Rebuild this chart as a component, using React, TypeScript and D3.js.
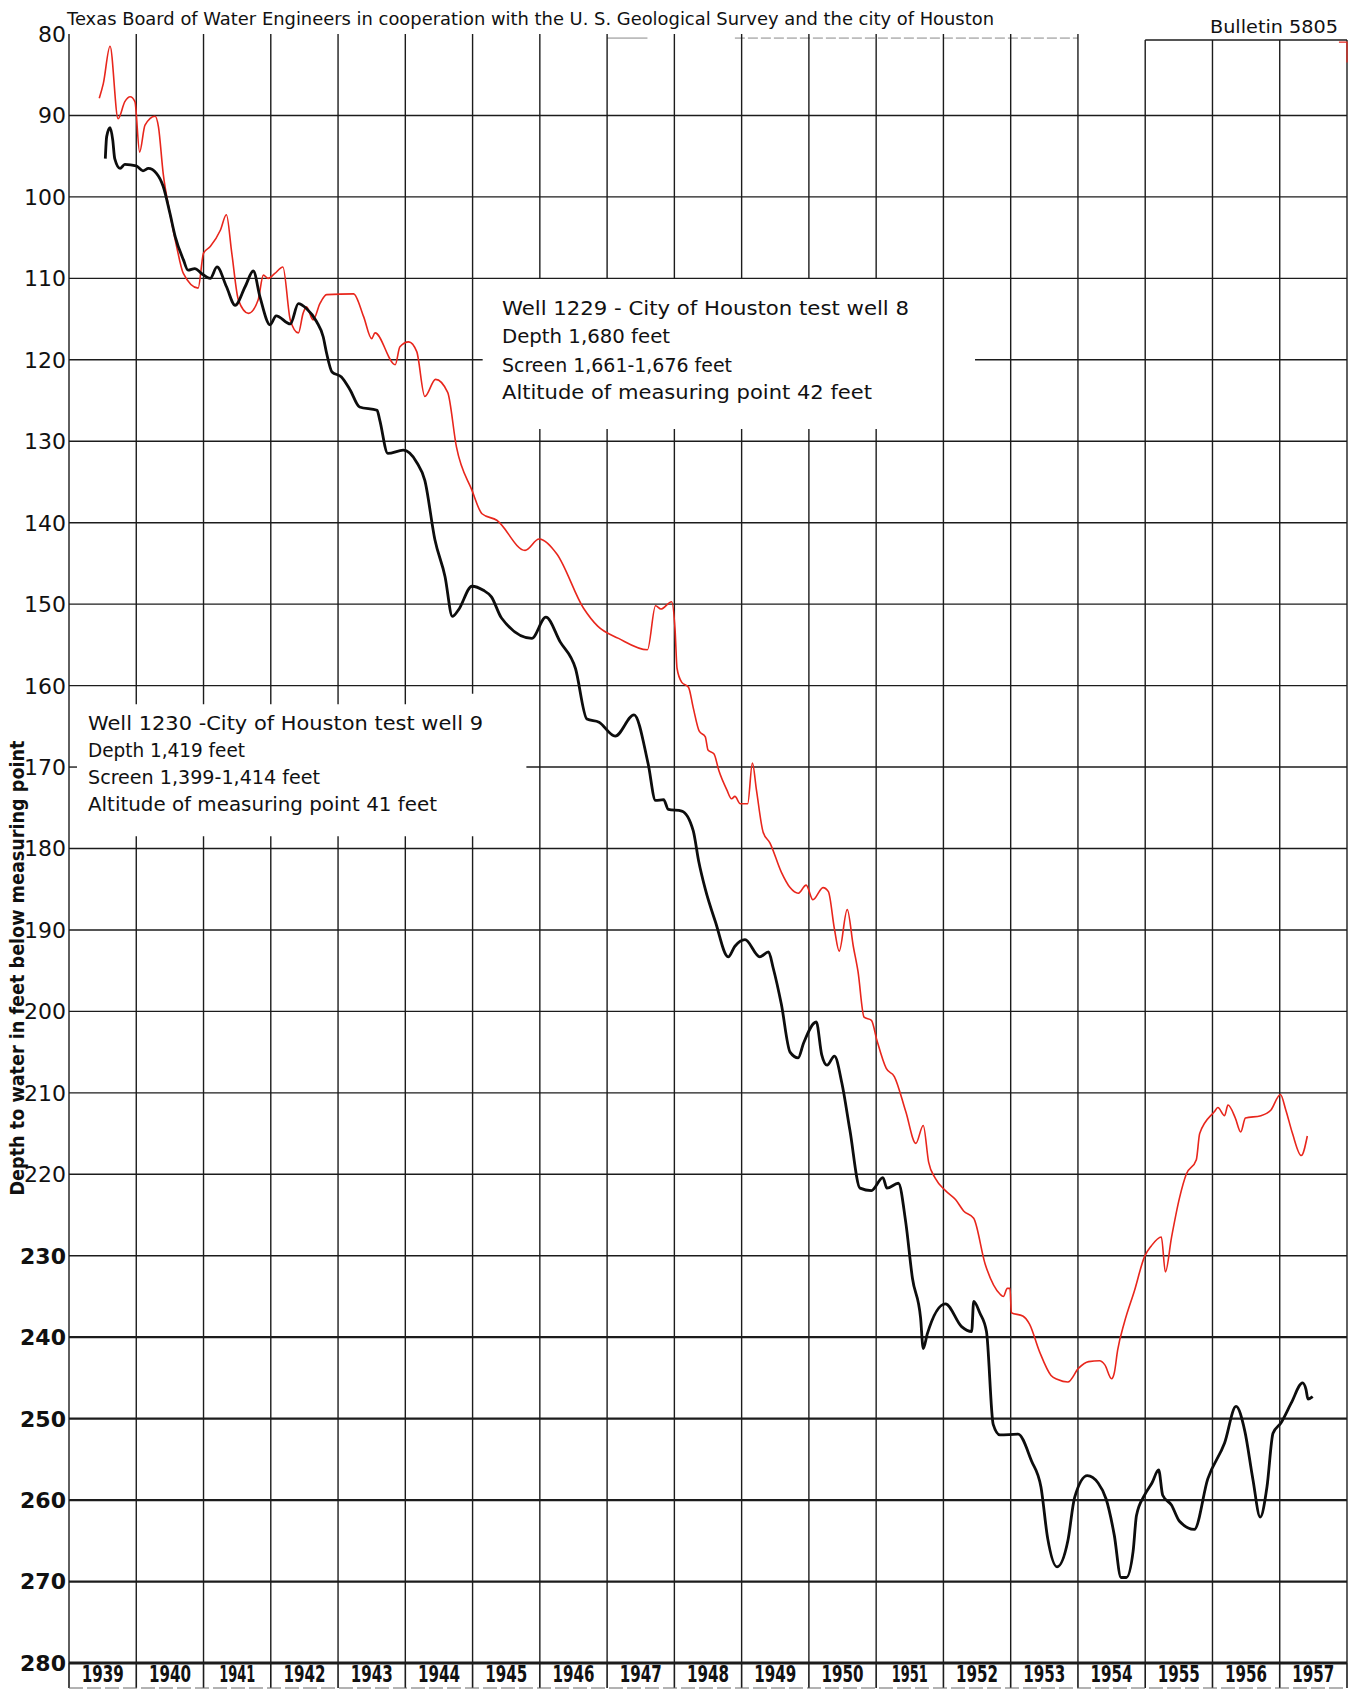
import React from "react";
import * as d3 from "d3";

// ---------- DATA ----------
const depthTicks = [80, 90, 100, 110, 120, 130, 140, 150, 160, 170, 180, 190, 200, 210, 220, 230, 240, 250, 260, 270, 280];
const boldTicks = [230, 240, 250, 260, 270, 280];
const yearLabels = ["1939", "1940", "1941", "1942", "1943", "1944", "1945", "1946", "1947", "1948", "1949", "1950", "1951", "1952", "1953", "1954", "1955", "1956", "1957"];
const yearLines = [1939, 1940, 1941, 1942, 1943, 1944, 1945, 1946, 1947, 1948, 1949, 1950, 1951, 1952, 1953, 1954, 1955, 1956, 1957, 1958];

// Well 1229 (red) [decimal year, depth below measuring point in feet]
const well1229: [number, number][] = [
  [1939.45, 87.9], [1939.51, 86.1], [1939.61, 81.5], [1939.73, 90.4], [1939.83, 88.3], [1939.91, 87.7],
  [1939.98, 88.3], [1940.05, 94.5], [1940.13, 91.2], [1940.28, 90.1], [1940.33, 91.4], [1940.40, 97.1],
  [1940.50, 102.0], [1940.60, 106.1], [1940.70, 109.4], [1940.92, 111.2], [1941.00, 106.9], [1941.10, 106.1],
  [1941.25, 104.1], [1941.34, 102.2], [1941.42, 106.9], [1941.52, 112.7], [1941.67, 114.3], [1941.81, 112.7],
  [1941.89, 109.6], [1941.96, 110.0], [1942.06, 109.4], [1942.18, 108.6], [1942.29, 115.1], [1942.41, 116.7],
  [1942.48, 114.3], [1942.53, 113.5], [1942.63, 115.1], [1942.73, 113.1], [1942.83, 112.0], [1943.23, 111.9],
  [1943.38, 114.7], [1943.50, 117.4], [1943.55, 116.7], [1943.85, 120.6], [1943.92, 118.4], [1944.05, 117.8],
  [1944.17, 119.0], [1944.29, 124.5], [1944.45, 122.4], [1944.63, 124.0], [1944.76, 130.7], [1944.99, 136.0],
  [1945.14, 138.9], [1945.36, 139.7], [1945.78, 143.4], [1945.99, 142.0], [1946.25, 143.8], [1946.65, 150.5],
  [1946.86, 152.7], [1947.17, 154.2], [1947.60, 155.6], [1947.72, 150.2], [1947.80, 150.6], [1947.96, 149.7],
  [1948.01, 153.1], [1948.04, 157.9], [1948.11, 159.6], [1948.21, 160.2], [1948.28, 162.7], [1948.37, 165.6],
  [1948.46, 166.3], [1948.50, 167.9], [1948.59, 168.4], [1948.66, 170.4], [1948.78, 172.8], [1948.85, 173.9],
  [1948.90, 173.6], [1948.98, 174.5], [1949.09, 174.5], [1949.16, 169.5], [1949.22, 172.8], [1949.32, 178.0],
  [1949.42, 179.3], [1949.59, 182.9], [1949.72, 184.8], [1949.84, 185.5], [1949.96, 184.5], [1950.06, 186.3],
  [1950.21, 184.8], [1950.29, 185.3], [1950.38, 189.9], [1950.45, 192.6], [1950.57, 187.5], [1950.66, 192.0],
  [1950.73, 195.1], [1950.82, 200.7], [1950.93, 201.1], [1951.01, 203.5], [1951.15, 207.0], [1951.27, 208.0],
  [1951.44, 212.3], [1951.59, 216.2], [1951.70, 214.0], [1951.78, 218.5], [1951.88, 220.5], [1952.03, 222.0],
  [1952.18, 223.1], [1952.30, 224.5], [1952.45, 225.4], [1952.62, 231.0], [1952.84, 234.7], [1952.89, 235.0],
  [1952.95, 234.0], [1952.99, 234.0], [1953.01, 237.0], [1953.18, 237.4], [1953.28, 238.4], [1953.43, 241.8],
  [1953.60, 244.7], [1953.70, 245.2], [1953.85, 245.5], [1954.01, 243.8], [1954.16, 243.0], [1954.32, 242.9],
  [1954.40, 243.4], [1954.50, 245.1], [1954.54, 244.4], [1954.59, 241.6], [1954.69, 238.2], [1954.84, 234.3],
  [1954.99, 230.1], [1955.09, 228.8], [1955.24, 227.7], [1955.30, 232.0], [1955.39, 227.8], [1955.51, 222.9],
  [1955.61, 220.0], [1955.76, 218.2], [1955.81, 215.0], [1956.03, 212.3], [1956.08, 211.8], [1956.18, 212.8],
  [1956.23, 211.5], [1956.34, 213.1], [1956.42, 214.8], [1956.49, 213.1], [1956.72, 212.8], [1956.87, 212.1],
  [1957.01, 210.2], [1957.09, 212.1], [1957.19, 215.0], [1957.32, 217.7], [1957.41, 215.3],
];

// Well 1230 (black)
const well1230: [number, number][] = [
  [1939.54, 95.3], [1939.56, 92.6], [1939.61, 91.5], [1939.65, 93.0], [1939.68, 95.3], [1939.76, 96.5],
  [1939.83, 96.0], [1940.00, 96.2], [1940.10, 96.8], [1940.18, 96.5], [1940.30, 97.1], [1940.40, 98.7],
  [1940.50, 102.0], [1940.58, 104.9], [1940.70, 107.7], [1940.77, 109.0], [1940.87, 108.8], [1940.97, 109.4],
  [1941.10, 110.0], [1941.20, 108.6], [1941.34, 111.0], [1941.47, 113.3], [1941.62, 111.0], [1941.74, 109.1],
  [1941.84, 112.3], [1941.99, 115.7], [1942.08, 114.6], [1942.29, 115.6], [1942.41, 113.1], [1942.53, 113.7],
  [1942.68, 115.3], [1942.78, 117.2], [1942.83, 119.2], [1942.91, 121.5], [1943.05, 122.1], [1943.18, 123.7],
  [1943.32, 125.8], [1943.58, 126.2], [1943.62, 127.4], [1943.74, 131.5], [1943.97, 131.1], [1944.17, 132.6],
  [1944.29, 134.8], [1944.44, 142.1], [1944.59, 146.6], [1944.70, 151.5], [1944.79, 150.7], [1944.99, 147.8],
  [1945.16, 148.3], [1945.28, 149.1], [1945.43, 151.7], [1945.88, 154.2], [1946.09, 151.6], [1946.30, 154.6],
  [1946.53, 157.9], [1946.70, 164.1], [1946.88, 164.5], [1947.12, 166.2], [1947.40, 163.6], [1947.61, 169.6],
  [1947.72, 174.1], [1947.84, 174.0], [1947.91, 175.2], [1948.11, 175.4], [1948.28, 177.8], [1948.36, 181.5],
  [1948.46, 185.0], [1948.61, 189.0], [1948.80, 193.3], [1948.90, 192.0], [1949.05, 191.2], [1949.27, 193.3],
  [1949.40, 192.7], [1949.47, 194.7], [1949.59, 199.1], [1949.72, 205.0], [1949.84, 205.7], [1949.92, 203.9],
  [1950.11, 201.3], [1950.19, 205.3], [1950.27, 206.6], [1950.38, 205.5], [1950.49, 208.8], [1950.61, 214.6],
  [1950.76, 221.7], [1950.93, 222.0], [1951.10, 220.4], [1951.16, 221.7], [1951.33, 221.1], [1951.44, 225.9],
  [1951.54, 232.8], [1951.66, 237.6], [1951.70, 241.4], [1951.76, 239.6], [1952.03, 235.9], [1952.27, 238.7],
  [1952.42, 239.3], [1952.45, 235.6], [1952.54, 237.0], [1952.64, 239.3], [1952.74, 250.7], [1952.84, 252.0],
  [1953.11, 251.9], [1953.31, 255.2], [1953.45, 258.4], [1953.55, 264.7], [1953.69, 268.2], [1953.85, 265.0],
  [1953.95, 259.7], [1954.14, 257.0], [1954.30, 257.9], [1954.42, 259.9], [1954.54, 264.3], [1954.64, 269.5],
  [1954.72, 269.5], [1954.82, 266.3], [1954.87, 261.9], [1954.99, 259.4], [1955.10, 257.9], [1955.20, 256.3],
  [1955.26, 259.4], [1955.39, 260.6], [1955.51, 262.6], [1955.73, 263.6], [1955.93, 257.4], [1956.18, 253.0],
  [1956.35, 248.5], [1956.48, 251.5], [1956.60, 257.4], [1956.71, 262.1], [1956.81, 258.4], [1956.90, 251.8],
  [1957.02, 250.5], [1957.17, 248.1], [1957.34, 245.6], [1957.39, 246.4], [1957.42, 247.6], [1957.49, 247.3],
];

const titleText = "Texas Board of Water Engineers in cooperation with the U. S. Geological Survey and the city of Houston";
const bulletinText = "Bulletin  5805";
const axisTitle = "Depth to water in feet below measuring point";
const note1229 = ["Well 1229  - City of Houston test well 8", "Depth 1,680 feet", "Screen 1,661-1,676 feet", "Altitude of measuring point 42 feet"];
const note1230 = ["Well 1230 -City of Houston  test well 9", "Depth 1,419 feet", "Screen 1,399-1,414 feet", "Altitude of measuring point 41 feet"];

// gaps in the grid (label boxes) : year -> depth ranges hidden
const verticalGaps: Record<number, [number, number][]> = {
  1940: [[162.3, 178.5]], 1941: [[162.3, 178.5]], 1942: [[162.3, 178.5]], 1943: [[162.3, 178.5]],
  1944: [[162.3, 178.5]], 1945: [[161, 178.5]],
  1946: [[110, 128.5]], 1947: [[110, 128.5]], 1948: [[110, 128.5]], 1949: [[110, 128.5]],
  1950: [[110, 128.5]], 1951: [[110, 128.5]],
};
const horizontalGaps: Record<number, [number, number][]> = {
  120: [[1945.15, 1952.47]],
  170: [[1939, 1945.8]],
};

// ---------- SCALES ----------
const W = 1360, H = 1690;
const x = d3.scaleLinear().domain([1939, 1958]).range([69, 1347]);
const y = d3.scaleLinear().domain([80, 280]).range([34, 1663]);

function segments(lo: number, hi: number, gaps: [number, number][] = []): [number, number][] {
  const out: [number, number][] = [];
  let cur = lo;
  const sorted = [...gaps].sort((a, b) => a[0] - b[0]);
  for (const [a, b] of sorted) {
    if (a > cur) out.push([cur, a]);
    cur = Math.max(cur, b);
  }
  if (cur < hi) out.push([cur, hi]);
  return out;
}

const lineGen = d3
  .line<[number, number]>()
  .x((d) => x(d[0]))
  .y((d) => y(d[1]))
  .curve(d3.curveMonotoneX);

const FONT = "'DejaVu Sans', Verdana, sans-serif";

export default function App() {
  const gridColor = "#1c1c1c";
  return (
    <svg
      width={W}
      height={H}
      viewBox={`0 0 ${W} ${H}`}
      style={{ position: "absolute", left: 0, top: 0, background: "#fff" }}
    >
      <rect x={0} y={0} width={W} height={H} fill="#fff" />

      {/* top frame fragments */}
      <line x1={x(1955)} x2={x(1958)} y1={40} y2={40} stroke={gridColor} strokeWidth={1.4} />
      <line x1={x(1948.9)} x2={x(1954)} y1={y(80.5)} y2={y(80.5)} stroke="#888" strokeWidth={1} strokeDasharray="10 3" />
      <line x1={x(1947.0)} x2={x(1947.6)} y1={y(80.5)} y2={y(80.5)} stroke="#888" strokeWidth={1} />

      {/* horizontal grid */}
      {depthTicks.filter((v) => v !== 80).map((v) => {
        const sw = v === 280 ? 3.2 : v >= 240 ? 2.3 : 1.4;
        return segments(1939, 1958, horizontalGaps[v]).map(([a, b], i) => (
          <line key={`h${v}-${i}`} x1={x(a)} x2={x(b)} y1={y(v)} y2={y(v)} stroke={gridColor} strokeWidth={sw} />
        ));
      })}
      {/* tick at 170 */}
      <line x1={x(1939)} x2={x(1939) + 8} y1={y(170)} y2={y(170)} stroke={gridColor} strokeWidth={1.4} />

      {/* vertical grid */}
      {yearLines.map((yr) =>
        segments(80, 280, verticalGaps[yr]).map(([a, b], i) => (
          <line
            key={`v${yr}-${i}`}
            x1={x(yr)}
            x2={x(yr)}
            y1={yr >= 1955 && a === 80 ? 40 : y(a)}
            y2={y(b)}
            stroke={gridColor}
            strokeWidth={1.4}
          />
        ))
      )}

      {/* year label strip separators */}
      {yearLines.map((yr) => (
        <line key={`s${yr}`} x1={x(yr)} x2={x(yr)} y1={y(280)} y2={1688} stroke={gridColor} strokeWidth={1.6} />
      ))}
      <line x1={x(1939)} x2={x(1958)} y1={1688} y2={1688} stroke="#666" strokeWidth={1} strokeDasharray="14 4" />

      {/* year labels */}
      {yearLabels.map((lab, i) => (
        <text
          key={lab}
          x={x(1939 + i + 0.5)}
          y={1682}
          textAnchor="middle"
          fontFamily={FONT}
          fontWeight="bold"
          fontSize={23}
          textLength={lab.endsWith("1") ? 36 : 42}
          lengthAdjust="spacingAndGlyphs"
          fill="#111"
        >
          {lab}
        </text>
      ))}

      {/* depth labels */}
      {depthTicks.map((v) => (
        <text
          key={`t${v}`}
          x={66}
          y={y(v)}
          dy="0.36em"
          textAnchor="end"
          fontFamily={FONT}
          fontWeight={boldTicks.includes(v) ? "bold" : "normal"}
          fontSize={22}
          fill="#111"
        >
          {v}
        </text>
      ))}

      {/* axis title */}
      <text
        transform={`translate(24, 968) rotate(-90)`}
        textAnchor="middle"
        fontFamily={FONT}
        fontWeight="bold"
        fontSize={19}
        textLength={455}
        lengthAdjust="spacingAndGlyphs"
        fill="#111"
      >
        {axisTitle}
      </text>

      {/* header */}
      <text x={67} y={25} fontFamily={FONT} fontSize={17} textLength={927} lengthAdjust="spacingAndGlyphs" fill="#111">
        {titleText}
      </text>
      <text x={1210} y={33} fontFamily={FONT} fontSize={17} textLength={128} lengthAdjust="spacingAndGlyphs" fill="#111">
        {bulletinText}
      </text>

      {/* notes */}
      {note1229.map((t, i) => (
        <text
          key={`n1-${i}`}
          x={502}
          y={[315, 343, 372, 399][i]}
          fontFamily={FONT}
          fontSize={20}
          textLength={[407, 168, 230, 370][i]}
          lengthAdjust="spacingAndGlyphs"
          fill="#111"
        >
          {t}
        </text>
      ))}
      {note1230.map((t, i) => (
        <text
          key={`n2-${i}`}
          x={88}
          y={[730, 757, 784, 811][i]}
          fontFamily={FONT}
          fontSize={20}
          textLength={[395, 157, 232, 349][i]}
          lengthAdjust="spacingAndGlyphs"
          fill="#111"
        >
          {t}
        </text>
      ))}

      {/* data lines */}
      <path d={lineGen(well1229) || ""} fill="none" stroke="#e8261c" strokeWidth={1.6} strokeLinejoin="round" />
      <path d={lineGen(well1230) || ""} fill="none" stroke="#0d0d0d" strokeWidth={2.8} strokeLinejoin="round" />

      {/* small red corner mark */}
      <path d={`M${x(1957.88)},${y(81)} L${x(1958)},${y(81)} L${x(1958)},${y(83.5)}`} fill="none" stroke="#e8261c" strokeWidth={1.2} />
    </svg>
  );
}
